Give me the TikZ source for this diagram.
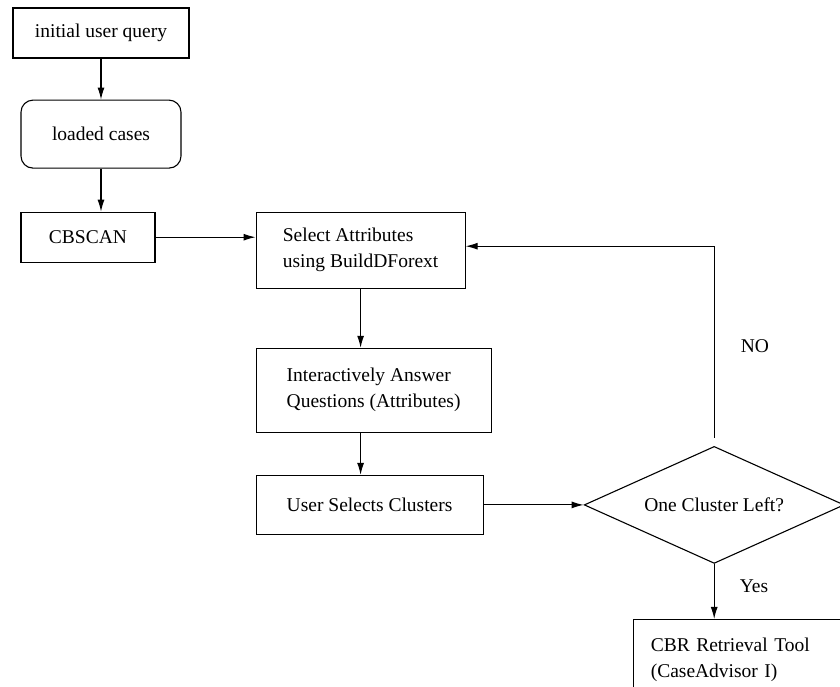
\documentclass[tikz,border=0pt]{standalone}
\usepackage{fontspec}
\setmainfont{Liberation Serif}
\usetikzlibrary{positioning, arrows.meta, shapes.geometric}

\begin{document}
\begin{tikzpicture}[
  x=1pt, y=-1pt,
  every node/.style={font=\fontsize{19.5}{26}\selectfont},
  box/.style={draw, line width=1.1pt, minimum width=#1, align=left, inner sep=0pt},
  box/.default=176pt,
  decide/.style={draw, diamond, aspect=2.2, minimum width=260pt, minimum height=117pt, inner sep=0pt, line width=1.1pt},
  lbl/.style={inner sep=0pt},
  arr/.style={-{Latex[length=12pt, width=7pt]}, line width=1.1pt},
]

\useasboundingbox (0,0) rectangle (840,686);
\clip (0,0) rectangle (840,686);

% === LEFT COLUMN ===
\node[box=176pt, minimum height=50pt] (query) at (101,33) {initial user query};
\node[box=160pt, minimum height=68pt, rounded corners=12pt, below=41pt of query] (loaded) {loaded cases};
\node[box=134pt, minimum height=50pt, below=43pt of loaded.south west, anchor=north west] (cbscan) {CBSCAN};

\draw[arr] (query) -- (loaded);
\draw[arr] (loaded) -- (loaded |- cbscan.north);

% === MIDDLE COLUMN ===
\node[box=209pt, minimum height=76pt, right=100pt of cbscan.north east, anchor=north west] (select) {Select Attributes\\using BuildDForext};
\node[box=235pt, minimum height=84pt, below=59pt of select.south west, anchor=north west] (answer) {Interactively Answer\\Questions (Attributes)};
\node[box=227pt, minimum height=59pt, below=42pt of answer.south west, anchor=north west] (clusters) {User Selects Clusters};

\draw[arr] (cbscan) -- (cbscan -| select.west);
\draw[arr] (select) -- (select |- answer.north);
\draw[arr] (select |- answer.south) -- (select |- clusters.north);

% === DECISION ===
\node[decide, right=100pt of clusters] (left) {One Cluster Left?};
\node[box=274pt, text width=240pt, inner xsep=17pt, inner ysep=18pt, below=55pt of left.south, anchor=north west, xshift=-81pt] (cbr) {CBR Retrieval Tool\\(CaseAdvisor I)};

\draw[arr] (clusters) -- (left);
\draw[arr] (left) -- node[lbl, pos=0.4, right=25pt] (yes) {Yes} (left |- cbr.north);
\draw[arr, shorten <=8pt] (left.north) |- node[lbl, pos=0.25, right=26pt] (no) {NO} ([yshift=4pt]select.east);

\end{tikzpicture}
\end{document}
